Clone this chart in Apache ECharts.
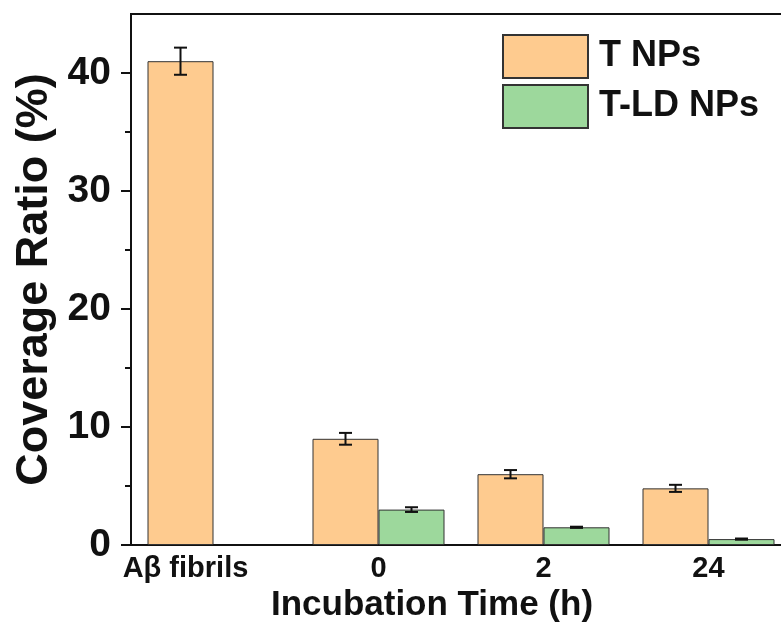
<!DOCTYPE html>
<html>
<head>
<meta charset="utf-8">
<script src="https://cdn.jsdelivr.net/npm/echarts@6/dist/echarts.min.js"></script>
<style>
html,body{margin:0;padding:0;background:#fff;}
#chart{width:781px;height:622px;}
</style>
</head>
<body>
<div id="chart"></div>
<script>
const categories = ['Aβ fibrils', '0', '2', '24'];
const seriesNames = ['T NPs', 'T-LD NPs'];
const tValues = [41.0, 9.0, 6.0, 4.8];
const tErrors = [1.15, 0.5, 0.35, 0.3];
const tldValues = [null, 3.0, 1.5, 0.5];
const tldErrors = [null, 0.2, 0.05, 0.05];
const yMajorTicks = [0, 10, 20, 30, 40];
const yMinorTicks = [5, 15, 25, 35];

const FONT = '"Liberation Sans", Arial, sans-serif';
const colors = ['#FECB8F', '#9DD89C'];

const chart = echarts.init(document.getElementById('chart'));

function errData(vals, errs) {
  return vals.map((v, i) => (v == null ? [i, '-', '-'] : [i, v, errs[i]]));
}

function makeErrRender(slot) {
  return function (params, api) {
    const v = api.value(1);
    const e = api.value(2);
    if (isNaN(v) || isNaN(e)) return null;
    const idx = api.value(0);
    const band = api.size([1, 0])[0];
    const cx = api.coord([idx, v])[0] + slot * band * 0.2;
    const yHi = api.coord([idx, v + e])[1];
    const yLo = api.coord([idx, v - e])[1];
    const hw = 6.5;
    const st = { stroke: '#111', lineWidth: 2 };
    return {
      type: 'group',
      children: [
        { type: 'line', shape: { x1: cx, y1: yHi, x2: cx, y2: yLo }, style: st },
        { type: 'line', shape: { x1: cx - hw, y1: yHi, x2: cx + hw, y2: yHi }, style: st },
        { type: 'line', shape: { x1: cx - hw, y1: yLo, x2: cx + hw, y2: yLo }, style: st }
      ]
    };
  };
}

const xData = categories.map((c, i) => i === 0
  ? { value: c, textStyle: { padding: [0, 56, 0, 0] } }
  : c);

const option = {
  animation: false,
  backgroundColor: '#fff',
  grid: {
    left: 131, top: 14, width: 660, height: 531,
    outerBoundsMode: 'none', containLabel: false,
    show: true, borderColor: '#111', borderWidth: 2, backgroundColor: 'transparent'
  },
  legend: {
    orient: 'vertical',
    left: 502, top: 34, padding: 0,
    itemWidth: 85, itemHeight: 43, itemGap: 5,
    icon: 'rect',
    data: seriesNames,
    textStyle: { fontFamily: FONT, fontWeight: 'bold', fontSize: 36, color: '#111', padding: [0, 0, 15, 6] }
  },
  xAxis: {
    type: 'category',
    data: xData,
    axisLine: { show: true, lineStyle: { color: '#111', width: 2 } },
    axisTick: { show: false },
    axisLabel: { interval: 0, fontFamily: FONT, fontWeight: 'bold', fontSize: 29, color: '#111', margin: 9 },
    name: 'Incubation Time (h)',
    nameLocation: 'middle',
    nameGap: 15,
    nameTextStyle: { fontFamily: FONT, fontWeight: 'bold', fontSize: 35, color: '#111', padding: [0, 58, 0, 0] }
  },
  yAxis: [{
    type: 'value',
    min: 0, max: 45, interval: 10,
    axisLine: { show: true, lineStyle: { color: '#111', width: 2 } },
    axisTick: { show: true, length: 10, lineStyle: { color: '#111', width: 2 }, customValues: yMajorTicks },
    axisLabel: { fontFamily: FONT, fontWeight: 'bold', fontSize: 39, color: '#111', margin: 20, customValues: yMajorTicks },
    splitLine: { show: false },
    name: 'Coverage Ratio (%)',
    nameLocation: 'middle',
    nameGap: 70,
    nameTextStyle: { fontFamily: FONT, fontWeight: 'bold', fontSize: 45, color: '#111' }
  }, {
    type: 'value',
    position: 'left',
    min: 0, max: 45, interval: 10,
    axisLine: { show: false },
    axisTick: { show: true, length: 6, lineStyle: { color: '#111', width: 2 }, customValues: yMinorTicks },
    axisLabel: { show: false },
    splitLine: { show: false }
  }],
  series: [
    {
      name: seriesNames[0], type: 'bar', data: tValues,
      barGap: '0%', barCategoryGap: '20%',
      itemStyle: { color: colors[0], borderColor: '#333', borderWidth: 1 }
    },
    {
      name: seriesNames[1], type: 'bar', data: tldValues.map(v => v == null ? '-' : v),
      barGap: '0%', barCategoryGap: '20%',
      itemStyle: { color: colors[1], borderColor: '#333', borderWidth: 1 }
    },
    {
      type: 'custom', renderItem: makeErrRender(-1),
      data: errData(tValues, tErrors), encode: { x: 0, y: 1 }, z: 10, silent: true
    },
    {
      type: 'custom', renderItem: makeErrRender(1),
      data: errData(tldValues, tldErrors), encode: { x: 0, y: 1 }, z: 10, silent: true
    }
  ]
};
chart.setOption(option);
</script>
</body>
</html>
